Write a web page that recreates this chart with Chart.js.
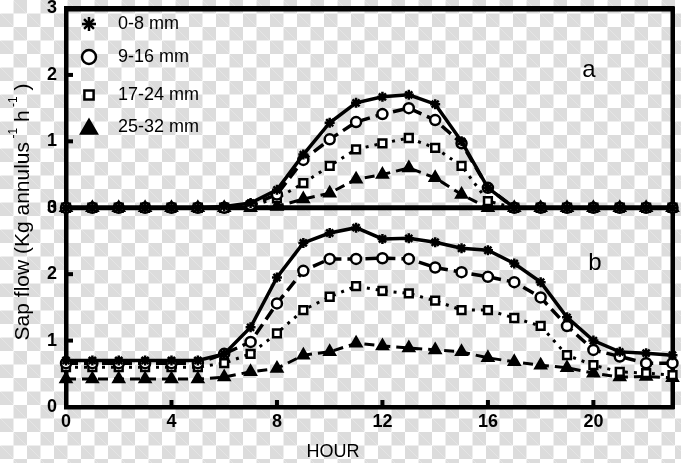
<!DOCTYPE html>
<html>
<head>
<meta charset="utf-8">
<script src="https://cdn.jsdelivr.net/npm/chart.js@4/dist/chart.umd.min.js"></script>
<style>
  html, body { margin: 0; padding: 0; }
  body {
    width: 681px; height: 463px;
    background-color: #fff;
    background-image:
      linear-gradient(45deg, #dcdcdc 25%, transparent 25%, transparent 75%, #dcdcdc 75%),
      linear-gradient(45deg, #dcdcdc 25%, transparent 25%, transparent 75%, #dcdcdc 75%);
    background-size: 27px 27px;
    background-position: 0 0, 13.5px 13.5px;
  }
  #wrap { position: relative; width: 681px; height: 463px; }
  canvas { display: block; }
</style>
</head>
<body>
<div id="wrap"><canvas id="sap" width="681" height="463"></canvas></div>
<script>
'use strict';
// hours of the day
let hours = [0, 1, 2, 3, 4, 5, 6, 7, 8, 9, 10, 11, 12, 13, 14, 15, 16, 17, 18, 19, 20, 21, 22, 23];

// panel a
let starA = [0, 0, 0, 0, 0, 0, 0.02, 0.07, 0.27, 0.8, 1.28, 1.58, 1.67, 1.7, 1.56, 1.0, 0.3, 0, 0, 0, 0, 0, 0, 0];
let circA = [0, 0, 0, 0, 0, 0, 0, 0.04, 0.2, 0.72, 1.03, 1.29, 1.41, 1.5, 1.32, 0.97, 0.3, 0, 0, 0, 0, 0, 0, 0];
let sqA = [0, 0, 0, 0, 0, 0, 0, 0.03, 0.14, 0.37, 0.63, 0.88, 0.97, 1.05, 0.9, 0.63, 0.1, 0, 0, 0, 0, 0, 0, 0];
let triA = [0, 0, 0, 0, 0, 0, 0, 0, 0.02, 0.13, 0.22, 0.43, 0.5, 0.6, 0.45, 0.2, 0, 0, 0, 0, 0, 0, 0, 0];

// panel b
let starB = [0.7, 0.7, 0.7, 0.7, 0.7, 0.7, 0.8, 1.2, 1.95, 2.47, 2.62, 2.7, 2.53, 2.54, 2.48, 2.39, 2.36, 2.16, 1.88, 1.35, 1.0, 0.83, 0.81, 0.78];
let circB = [0.66, 0.66, 0.66, 0.66, 0.66, 0.66, 0.8, 0.98, 1.56, 2.05, 2.23, 2.23, 2.24, 2.23, 2.1, 2.03, 1.96, 1.88, 1.65, 1.22, 0.86, 0.76, 0.66, 0.66];
let sqB = [0.6, 0.6, 0.6, 0.6, 0.6, 0.6, 0.66, 0.8, 1.11, 1.46, 1.66, 1.82, 1.75, 1.71, 1.6, 1.46, 1.46, 1.34, 1.22, 0.78, 0.63, 0.53, 0.51, 0.48];
let triB = [0.42, 0.42, 0.42, 0.42, 0.42, 0.42, 0.45, 0.53, 0.58, 0.78, 0.83, 0.96, 0.92, 0.89, 0.86, 0.83, 0.74, 0.68, 0.63, 0.59, 0.51, 0.45, 0.46, 0.44];

let xTicks = [0, 4, 8, 12, 16, 20];
let yTicks = [0, 1, 2, 3];
let legendNames = ['0-8 mm', '9-16 mm', '17-24 mm', '25-32 mm'];
let panelNames = ['a', 'b'];

let fontFam = '"Liberation Sans", Arial, Helvetica, sans-serif';

function pts(arr) {
  return hours.map(function (h, i) { return { x: h, y: arr[i] }; });
}

// one look per size class: star, circle, square, triangle
let looks = [
  { pointStyle: 'star', radius: 5, dash: [], width: 3.5, fill: '#000' },
  { pointStyle: 'circle', radius: 5, dash: [12, 6], width: 3.5, fill: '#fff' },
  { pointStyle: 'rect', radius: 5.5, dash: [3, 6], width: 3, fill: '#fff' },
  { pointStyle: 'triangle', radius: 6, dash: [10, 6], width: 3, fill: '#000' }
];

function makeSet(arr, look, axis) {
  return {
    data: pts(arr),
    yAxisID: axis,
    borderColor: '#000',
    backgroundColor: look.fill,
    borderWidth: look.width,
    borderDash: look.dash,
    pointStyle: look.pointStyle,
    pointRadius: look.radius,
    pointBorderWidth: 2.5,
    pointBackgroundColor: look.fill,
    pointBorderColor: '#000',
    tension: 0,
    clip: false
  };
}

let datasets = [];
[starA, circA, sqA, triA].forEach(function (arr, i) { datasets.push(makeSet(arr, looks[i], 'ya')); });
[starB, circB, sqB, triB].forEach(function (arr, i) { datasets.push(makeSet(arr, looks[i], 'yb')); });

function setTicks(list) {
  return function (scale) {
    scale.ticks = list.map(function (v) { return { value: v }; });
  };
}

let framePlugin = {
  id: 'frame',
  beforeDatasetsDraw: function (chart) {
    let ctx = chart.ctx;
    let a = chart.chartArea;
    let ya = chart.scales.ya;
    let yb = chart.scales.yb;
    let x = chart.scales.x;
    ctx.save();
    ctx.fillStyle = '#000';
    // outer frame
    ctx.fillRect(a.left - 2, a.top - 2.5, a.right - a.left + 4, 5.5);
    ctx.fillRect(a.left - 2, a.top - 2, 4.5, a.bottom - a.top + 4);
    ctx.fillRect(a.right - 2, a.top - 2, 4.5, a.bottom - a.top + 4);
    ctx.fillRect(a.left - 2, a.bottom - 2, a.right - a.left + 4, 4.5);
    // line between the panels
    ctx.fillRect(a.left - 2, ya.bottom - 2.5, a.right - a.left + 4, 5);
    // inward ticks
    [ya, yb].forEach(function (s) {
      [1, 2].forEach(function (v) {
        ctx.fillRect(a.left, s.getPixelForValue(v) - 2, 7, 4);
      });
    });
    xTicks.forEach(function (v) {
      if (v === 0) return;
      ctx.fillRect(x.getPixelForValue(v) - 2, a.bottom - 7, 4, 7);
    });
    ctx.restore();
  },
  afterDraw: function (chart) {
    let ctx = chart.ctx;
    let ya = chart.scales.ya;
    let yb = chart.scales.yb;
    ctx.save();
    ctx.fillStyle = '#000';
    ctx.strokeStyle = '#000';

    // legend
    let rowsY = [24, 57, 95, 127];
    legendNames.forEach(function (name, i) {
      let lk = looks[i];
      ctx.fillStyle = lk.fill;
      ctx.lineWidth = 2.5;
      ctx.setLineDash([]);
      Chart.helpers.drawPoint(ctx, {
        pointStyle: lk.pointStyle,
        radius: [7, 7, 6.5, 9][i],
        rotation: 0,
        borderWidth: 2.5
      }, 89, rowsY[i] + (i === 3 ? 2 : 0));
      ctx.fillStyle = '#000';
      ctx.font = '18px ' + fontFam;
      ctx.textAlign = 'left';
      ctx.textBaseline = 'middle';
      ctx.fillText(name, 118, rowsY[i]);
    });

    // panel letters
    ctx.font = '24px ' + fontFam;
    ctx.textAlign = 'center';
    ctx.textBaseline = 'middle';
    ctx.fillText(panelNames[0], 589, 70);
    ctx.fillText(panelNames[1], 595, 263);

    // x title
    ctx.font = '18px ' + fontFam;
    ctx.fillText('HOUR', 333, 452);

    // y title with superscripts
    let parts = [
      { t: 'Sap flow (Kg annulus', sup: false },
      { t: ' -1', sup: true },
      { t: ' h', sup: false },
      { t: ' -1', sup: true },
      { t: ' )', sup: false }
    ];
    let big = '21px ' + fontFam;
    let small = '12px ' + fontFam;
    let total = 0;
    parts.forEach(function (p) {
      ctx.font = p.sup ? small : big;
      p.w = ctx.measureText(p.t).width;
      total += p.w;
    });
    ctx.translate(23, 212);
    ctx.rotate(-Math.PI / 2);
    ctx.textAlign = 'left';
    ctx.textBaseline = 'middle';
    let cx = -total / 2;
    parts.forEach(function (p) {
      ctx.font = p.sup ? small : big;
      ctx.fillText(p.t, cx, p.sup ? -9 : 0);
      cx += p.w;
    });
    ctx.restore();
  }
};

function yAxis(weight) {
  return {
    type: 'linear',
    position: 'left',
    stack: 'sap',
    stackWeight: 1,
    weight: weight,
    min: 0,
    max: 3,
    afterBuildTicks: setTicks(yTicks),
    afterFit: function (s) {
      s.width = 66;
      s.paddingTop = 0;
      s.paddingBottom = 0;
    },
    grid: { display: false, drawTicks: false },
    border: { display: false },
    ticks: {
      color: '#000',
      padding: 9,
      font: { family: fontFam, size: 18, weight: 'bold' }
    }
  };
}

new Chart(document.getElementById('sap'), {
  type: 'line',
  data: { datasets: datasets },
  plugins: [framePlugin],
  options: {
    responsive: false,
    animation: false,
    layout: { padding: { left: 0, right: 8, top: 7, bottom: 0 } },
    plugins: {
      legend: { display: false },
      tooltip: { enabled: false }
    },
    scales: {
      x: {
        type: 'linear',
        min: 0,
        max: 23,
        afterBuildTicks: setTicks(xTicks),
        afterFit: function (s) {
          s.height = 56;
          s.paddingLeft = 0;
          s.paddingRight = 0;
        },
        grid: { display: false, drawTicks: false },
        border: { display: false },
        ticks: {
          color: '#000',
          padding: 4,
          font: { family: fontFam, size: 18, weight: 'bold' }
        }
      },
      ya: yAxis(2),
      yb: yAxis(1)
    }
  }
});
</script>
</body>
</html>
